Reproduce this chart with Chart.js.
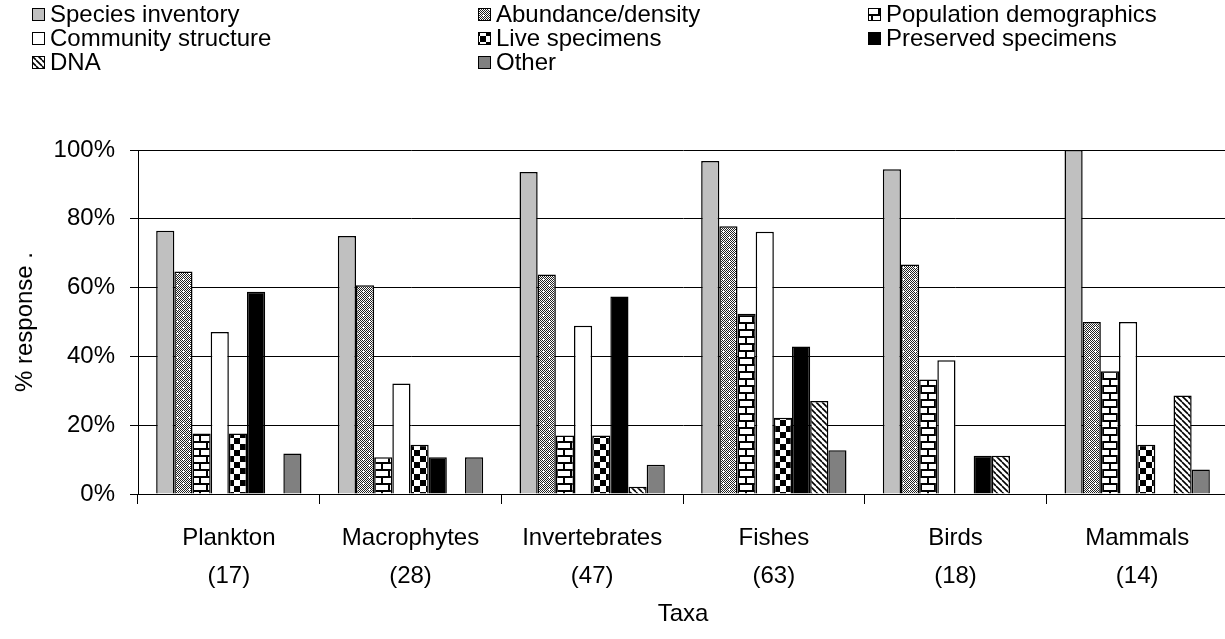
<!DOCTYPE html>
<html>
<head>
<meta charset="utf-8">
<script src="https://cdn.jsdelivr.net/npm/chart.js@4"></script>
<style>
  html, body { margin: 0; padding: 0; background: #fff; overflow: hidden; }
</style>
</head>
<body>
<canvas id="taxaChart" width="1228" height="639"></canvas>
<script>
// categories and their sample sizes
const taxa = ['Plankton', 'Macrophytes', 'Invertebrates', 'Fishes', 'Birds', 'Mammals'];
const sampleSizes = [17, 28, 47, 63, 18, 14];

// % response per type of data, one value per taxon
const speciesInventory = [76.5, 75.0, 93.6, 96.8, 94.4, 100];
const abundanceDensity = [64.7, 60.7, 63.8, 77.8, 66.7, 50.0];
const populationDemographics = [17.6, 10.7, 17.0, 52.4, 33.3, 35.7];
const communityStructure = [47.1, 32.1, 48.9, 76.2, 38.9, 50.0];
const liveSpecimens = [17.6, 14.3, 17.0, 22.2, 0, 14.3];
const preservedSpecimens = [58.8, 10.7, 57.4, 42.9, 11.1, 0];
const dnaSamples = [0, 0, 2.1, 27.0, 11.1, 28.6];
const otherData = [11.8, 10.7, 8.5, 12.7, 0, 7.1];

const yTicks = [0, 20, 40, 60, 80, 100];

const FONT = "'Liberation Sans', Arial, sans-serif";

function makePattern(w, h, draw) {
    const c = document.createElement('canvas');
    c.width = w;
    c.height = h;
    const g = c.getContext('2d');
    g.fillStyle = '#fff';
    g.fillRect(0, 0, w, h);
    draw(g);
    return g.createPattern(c, 'repeat');
}

// gray stipple with white crosses
const stipple = makePattern(12, 12, g => {
    g.fillStyle = '#222';
    for (let y = 0; y < 12; y++) {
        for (let x = 0; x < 12; x++) {
            if ((x + y) % 2 === 0) g.fillRect(x, y, 1, 1);
        }
    }
    g.fillStyle = '#fff';
    [[3, 3], [9, 9]].forEach(([cx, cy]) => {
        g.fillRect(cx - 1, cy, 3, 1);
        g.fillRect(cx, cy - 1, 1, 3);
    });
});

// horizontal brick
const brick = makePattern(14, 14, g => {
    g.fillStyle = '#000';
    g.fillRect(0, 0, 14, 2);
    g.fillRect(0, 7, 14, 2);
    g.fillRect(3, 0, 2, 7);
    g.fillRect(10, 7, 2, 7);
});

// large checkerboard
const checker = makePattern(12, 12, g => {
    g.fillStyle = '#000';
    g.fillRect(0, 0, 6, 6);
    g.fillRect(6, 6, 6, 6);
});

// downward diagonal stripes
const stripes = makePattern(6, 6, g => {
    g.strokeStyle = '#000';
    g.lineWidth = 1.6;
    for (let k = -1; k <= 1; k++) {
        g.beginPath();
        g.moveTo(k * 6, 0);
        g.lineTo(k * 6 + 6, 6);
        g.stroke();
    }
});

const series = [
    { label: 'Species inventory', data: speciesInventory, fill: '#c0c0c0' },
    { label: 'Abundance/density', data: abundanceDensity, fill: stipple },
    { label: 'Population demographics', data: populationDemographics, fill: brick },
    { label: 'Community structure', data: communityStructure, fill: '#ffffff' },
    { label: 'Live specimens', data: liveSpecimens, fill: checker },
    { label: 'Preserved specimens', data: preservedSpecimens, fill: '#000000' },
    { label: 'DNA', data: dnaSamples, fill: stripes },
    { label: 'Other', data: otherData, fill: '#808080' }
];

// three-column legend drawn above the plot
const gridLegend = {
    id: 'gridLegend',
    afterDraw(chart) {
        const ctx = chart.ctx;
        const colX = [32, 478, 868];
        const rowY = [14, 38, 62];
        ctx.save();
        ctx.font = '24px ' + FONT;
        ctx.textBaseline = 'middle';
        ctx.textAlign = 'left';
        chart.data.datasets.forEach((ds, i) => {
            const x = colX[i % 3];
            const y = rowY[Math.floor(i / 3)];
            ctx.fillStyle = ds.backgroundColor;
            ctx.fillRect(x, y - 6, 13, 13);
            ctx.strokeStyle = '#000';
            ctx.lineWidth = 1;
            ctx.strokeRect(x + 0.5, y - 5.5, 12, 12);
            ctx.fillStyle = '#000';
            ctx.fillText(ds.label, x + 18, y + 1);
        });
        ctx.restore();
    }
};

new Chart(document.getElementById('taxaChart').getContext('2d'), {
    type: 'bar',
    data: {
        labels: taxa.map((t, i) => [t, '(' + sampleSizes[i] + ')']),
        datasets: series.map(s => ({
            label: s.label,
            data: s.data,
            backgroundColor: s.fill,
            borderColor: '#000',
            borderWidth: 1.5,
            categoryPercentage: 0.8,
            barPercentage: 1.0
        }))
    },
    options: {
        responsive: false,
        animation: false,
        layout: { padding: { top: 150, right: 0, left: 0, bottom: 0 } },
        plugins: {
            legend: { display: false },
            tooltip: { enabled: false }
        },
        scales: {
            x: {
                afterFit: scale => { scale.height = 145; },
                grid: {
                    offset: true,
                    drawOnChartArea: false,
                    drawTicks: true,
                    tickLength: 10,
                    color: '#000'
                },
                border: { color: '#000', width: 1 },
                ticks: {
                    color: '#000',
                    padding: 15,
                    maxRotation: 0,
                    font: { family: FONT, size: 24, lineHeight: 1.6 }
                },
                title: {
                    display: true,
                    text: 'Taxa',
                    color: '#000',
                    font: { family: FONT, size: 24, lineHeight: 1.2 },
                    padding: { top: 0, bottom: 10 }
                }
            },
            y: {
                min: 0,
                max: 100,
                afterFit: scale => { scale.width = 138; },
                afterBuildTicks: scale => { scale.ticks = yTicks.map(v => ({ value: v })); },
                grid: {
                    color: '#000',
                    tickLength: 8
                },
                border: { color: '#000', width: 1 },
                ticks: {
                    color: '#000',
                    padding: 15,
                    font: { family: FONT, size: 24 },
                    callback: v => v + '%'
                },
                title: {
                    display: true,
                    text: '% response .',
                    color: '#000',
                    font: { family: FONT, size: 24, lineHeight: 1.2 },
                    padding: { top: 11, bottom: 0 }
                }
            }
        }
    },
    plugins: [gridLegend]
});
</script>
</body>
</html>
